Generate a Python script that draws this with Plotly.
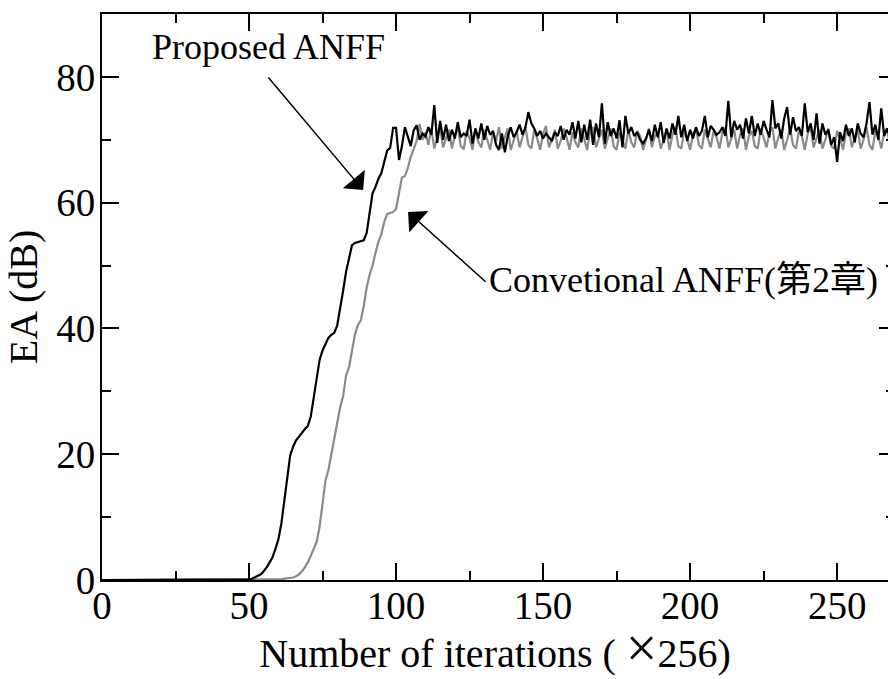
import plotly.graph_objects as go

iterations = list(range(0, 269))

proposed_anff = [
    0.0, 0.0, 0.1, 0.0, 0.0, 0.0, 0.0, 0.0, 0.0, 0.0,
    0.0, 0.0, 0.0, 0.0, 0.0, 0.0, 0.0, 0.0, 0.0, 0.0,
    0.0, 0.0, 0.0, 0.0, 0.0, 0.0, 0.0, 0.0, 0.0, 0.0,
    0.0, 0.0, 0.0, 0.0, 0.0, 0.0, 0.0, 0.0, 0.0, 0.0,
    0.0, 0.0, 0.0, 0.0, 0.0, 0.0, 0.0, 0.0, 0.0, 0.05,
    0.1, 0.2, 0.4, 0.6, 0.9, 1.4, 2.0, 2.8, 3.6, 5.0,
    6.5, 9.0, 12.5, 16.5, 19.8, 21.2, 22.2, 22.8, 23.5, 24.0,
    24.5, 26.0, 29.0, 32.0, 35.0, 36.5, 37.5, 38.5, 39.0, 39.3,
    40.5, 43.0, 46.0, 49.0, 51.0, 53.2, 53.6, 53.7, 53.8, 54.0,
    55.2, 58.5, 61.5, 62.5, 63.8, 64.7, 66.5, 68.3, 68.7, 71.9,
    71.9, 66.8, 69.0, 72.0, 70.5, 69.0, 71.5, 72.3, 70.0, 71.0,
    70.5, 72.0, 70.8, 75.5, 69.5, 73.0, 70.0, 72.4, 69.8, 71.6,
    70.2, 72.8, 70.4, 71.0, 70.6, 73.2, 69.4, 71.8, 70.2, 72.6,
    70.0, 72.2, 70.8, 71.4, 69.2, 68.4, 71.0, 68.0, 70.6, 72.0,
    70.4, 71.2, 72.4, 70.8, 72.0, 74.4, 72.6, 71.8, 70.6, 71.4,
    70.2, 71.0, 70.4, 69.8, 71.2, 70.6, 72.2, 70.0, 71.6, 70.8,
    72.8, 70.2, 73.0, 69.6, 72.4, 70.0, 73.2, 69.2, 72.6, 70.4,
    75.8, 69.4, 72.8, 70.6, 71.8, 70.2, 73.1, 68.8, 73.8, 71.0,
    72.0, 70.6, 71.2, 70.0, 69.4, 70.2, 71.6, 69.8, 72.4, 70.4,
    72.8, 69.5, 71.8, 70.2, 72.6, 70.8, 73.8, 70.4, 72.4, 69.8,
    71.6, 70.2, 72.0, 70.6, 71.4, 73.8, 70.4, 72.2, 71.6, 70.8,
    71.2, 72.0, 70.6, 76.2, 70.4, 73.0, 71.6, 72.4, 70.2, 73.4,
    71.0, 73.8, 70.6, 72.6, 70.8, 73.0, 71.6, 70.4, 76.3, 71.8,
    72.6, 70.2, 73.4, 75.2, 70.8, 73.6, 71.4, 72.0, 70.6, 75.8,
    71.2, 72.6, 70.0, 74.2, 69.4, 72.6, 70.8, 71.6, 69.2, 70.4,
    66.5, 71.2, 69.8, 72.4, 70.6, 71.8, 69.6, 72.6, 71.0, 70.4,
    72.6, 76.0, 70.8, 72.4, 70.0, 75.0, 70.6, 71.8, 70.4,
]

conventional_anff = [
    0.0, 0.0, 0.0, 0.0, 0.0, 0.0, 0.0, 0.0, 0.0, 0.0,
    0.0, 0.0, 0.0, 0.0, 0.0, 0.0, 0.0, 0.0, 0.0, 0.0,
    0.0, 0.0, 0.0, 0.0, 0.0, 0.0, 0.0, 0.0, 0.0, 0.0,
    0.0, 0.0, 0.0, 0.0, 0.0, 0.0, 0.0, 0.0, 0.0, 0.0,
    0.0, 0.0, 0.0, 0.0, 0.0, 0.0, 0.0, 0.0, 0.0, 0.0,
    0.0, 0.0, 0.0, 0.0, 0.0, 0.0, 0.0, 0.0, 0.05, 0.1,
    0.1, 0.15, 0.2, 0.2, 0.3, 0.4, 0.6, 0.9, 1.4, 2.0,
    2.8, 3.8, 4.8, 6.0, 8.5, 12.5, 15.8, 17.5, 20.0, 22.3,
    24.5, 27.5, 29.2, 32.5, 33.8, 36.5, 39.0, 40.5, 41.3, 43.5,
    46.5, 48.5, 50.0, 52.0, 53.8, 55.0, 57.0, 58.2, 58.4, 58.5,
    59.0, 61.5, 64.0, 64.2, 65.5, 67.3, 68.5, 69.8, 72.5, 70.0,
    71.2, 69.2, 71.8, 68.6, 70.4, 72.0, 68.8, 70.2, 71.6, 68.6,
    70.6, 72.0, 69.0, 68.5, 71.4, 70.2, 68.4, 71.8, 69.6, 68.8,
    71.6, 70.0, 68.4, 71.2, 69.8, 72.0, 68.6, 70.4, 71.8, 68.4,
    69.8, 71.4, 68.8, 70.6, 72.0, 69.2, 68.6, 71.6, 70.2, 68.4,
    71.0, 72.2, 68.8, 70.0, 71.6, 68.6, 69.8, 71.8, 70.4, 68.4,
    71.2, 69.6, 68.8, 71.8, 70.0, 68.4, 71.4, 72.0, 68.8, 70.2,
    71.6, 68.6, 70.4, 71.8, 69.0, 68.4, 71.2, 70.0, 68.6, 71.6,
    69.6, 68.8, 71.4, 70.6, 68.4, 70.0, 71.8, 68.8, 70.6, 71.2,
    68.6, 70.0, 71.6, 68.4, 70.8, 72.0, 69.0, 68.6, 71.4, 70.2,
    68.4, 71.0, 71.8, 69.2, 68.6, 71.6, 70.0, 68.8, 71.4, 70.4,
    68.6, 71.2, 72.0, 68.8, 70.2, 71.6, 68.6, 70.8, 71.8, 68.4,
    70.6, 71.4, 69.0, 68.6, 71.8, 70.2, 68.8, 71.2, 72.0, 68.6,
    70.4, 71.6, 68.4, 70.0, 71.8, 69.2, 68.6, 71.4, 70.6, 68.4,
    71.0, 72.0, 68.8, 70.2, 71.6, 68.6, 70.0, 71.8, 69.0, 68.6,
    71.4, 70.2, 68.4, 71.0, 71.8, 68.8, 70.4, 71.6, 68.6, 70.0,
    72.0, 69.2, 68.4, 71.4, 70.6, 68.6, 71.2, 71.8, 68.8,
]

x_tick_vals = [0, 50, 100, 150, 200, 250]
y_tick_vals = [0, 20, 40, 60, 80]

SERIF = "Liberation Serif"
SERIF_CJK = "Liberation Serif, Noto Sans CJK JP"

x_title = "Number of iterations ( <span style='font-size:56px'>×</span>256)"
y_title = "EA (dB)"

fig = go.Figure()
fig.add_trace(go.Scatter(x=iterations, y=conventional_anff, mode="lines",
                         line=dict(color="#8a8a8a", width=2.2),
                         showlegend=False, hoverinfo="skip"))
fig.add_trace(go.Scatter(x=iterations, y=proposed_anff, mode="lines",
                         line=dict(color="#000000", width=2.2),
                         showlegend=False, hoverinfo="skip"))
# invisible trace to carry the right-hand tick axis
fig.add_trace(go.Scatter(x=iterations, y=proposed_anff, mode="lines", yaxis="y2",
                         line=dict(color="rgba(0,0,0,0)", width=0),
                         showlegend=False, hoverinfo="skip"))

fig.update_layout(
    width=888, height=679,
    margin=dict(l=102, r=0, t=14, b=99),
    paper_bgcolor="white", plot_bgcolor="white",
    font=dict(family=SERIF, size=36, color="black"),
    xaxis=dict(range=[0, 267.3], tickvals=x_tick_vals, ticks="inside", ticklen=17,
               tickwidth=2, tickcolor="black", showline=True, linewidth=2,
               linecolor="black", mirror="ticks", showgrid=False, zeroline=False,
               ticklabelstandoff=-10,
               minor=dict(dtick=25, tick0=0, ticks="inside", ticklen=9, tickwidth=2,
                          tickcolor="black", showgrid=False),
               tickfont=dict(size=39, family=SERIF, color="black"),
               title=dict(text=x_title, standoff=8,
                          font=dict(size=40, family=SERIF, color="black"))),
    yaxis=dict(range=[0, 90], tickvals=y_tick_vals, ticks="inside", ticklen=17,
               tickwidth=2, tickcolor="black", showline=True, linewidth=2,
               linecolor="black", showgrid=False, zeroline=False,
               ticklabelstandoff=-3,
               minor=dict(dtick=10, tick0=0, ticks="inside", ticklen=9, tickwidth=2,
                          tickcolor="black", showgrid=False),
               tickfont=dict(size=39, family=SERIF, color="black"),
               title=dict(text=y_title, standoff=6,
                          font=dict(size=40, family=SERIF, color="black"))),
    yaxis2=dict(range=[0, 90], overlaying="y", side="right", tickvals=y_tick_vals,
                ticks="inside", ticklen=9, tickwidth=2, tickcolor="black",
                showline=False, showgrid=False, zeroline=False, showticklabels=False,
                minor=dict(dtick=10, tick0=0, ticks="inside", ticklen=2, tickwidth=2,
                           tickcolor="black", showgrid=False)),
)

# labels
fig.add_annotation(x=56.5, y=84.7, xref="x", yref="y", text="Proposed ANFF",
                   showarrow=False, font=dict(size=36, family=SERIF, color="black"))
fig.add_annotation(x=197.6, y=47.7, xref="x", yref="y", text="Convetional ANFF(第2章)",
                   showarrow=False, font=dict(size=36, family=SERIF_CJK, color="black"))
# arrows
fig.add_annotation(x=88.8, y=62.0, xref="x", yref="y", ax=-96, ay=-114, text="",
                   showarrow=True, arrowhead=1, arrowsize=3.2, arrowwidth=1.5,
                   arrowcolor="black")
fig.add_annotation(x=104.1, y=58.5, xref="x", yref="y", ax=79, ay=71, text="",
                   showarrow=True, arrowhead=1, arrowsize=3.2, arrowwidth=1.5,
                   arrowcolor="black")

fig.write_html("out.html")
